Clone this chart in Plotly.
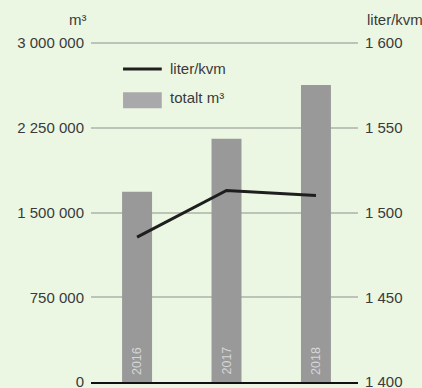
import plotly.graph_objects as go

years = ["2016", "2017", "2018"]
totalt_m3 = [1685000, 2153000, 2629000]
liter_kvm = [1485.5, 1513, 1510]

left_ticks = [0, 750000, 1500000, 2250000, 3000000]
left_ticktext = ["0", "750 000", "1 500 000", "2 250 000", "3 000 000"]
right_ticks = [1400, 1450, 1500, 1550, 1600]
right_ticktext = ["1 400", "1 450", "1 500", "1 550", "1 600"]

BG = "#ebf7e3"
TXT = "#3a3a3a"
FONT = "Liberation Sans, Arial, sans-serif"
FS = 15

xs = list(range(len(years)))

fig = go.Figure()
fig.add_trace(go.Bar(x=xs, y=totalt_m3, width=0.335, marker=dict(color="#999999", line=dict(width=0)),
                     name="totalt m³", yaxis="y"))
fig.add_trace(go.Scatter(x=xs, y=liter_kvm, mode="lines", line=dict(color="#1e1e1e", width=3),
                         name="liter/kvm", yaxis="y2"))

annotations = []
for i, yr in enumerate(years):
    annotations.append(dict(x=i, y=0, xref="x", yref="y", text=yr, textangle=-90, showarrow=False,
                            yanchor="bottom", xanchor="center", yshift=5,
                            font=dict(family=FONT, size=12.5, color="#d6d6d6")))
annotations += [
    dict(xref="paper", yref="paper", x=0, y=1, xanchor="right", yanchor="middle", xshift=-2, yshift=23,
         text="m³", showarrow=False, font=dict(family=FONT, size=FS, color=TXT)),
    dict(xref="paper", yref="paper", x=1, y=1, xanchor="left", yanchor="middle", xshift=7, yshift=23,
         text="liter/kvm", showarrow=False, font=dict(family=FONT, size=FS, color=TXT)),
    dict(xref="paper", yref="paper", x=0.288, y=0.9206, xanchor="left", yanchor="middle",
         text="liter/kvm", showarrow=False, font=dict(family=FONT, size=FS, color=TXT)),
    dict(xref="paper", yref="paper", x=0.288, y=0.838, xanchor="left", yanchor="middle",
         text="totalt m³", showarrow=False, font=dict(family=FONT, size=FS, color=TXT)),
]

shapes = [
    dict(type="line", xref="paper", yref="paper", x0=0.12, x1=0.265, y0=0.9206, y1=0.9206,
         line=dict(color="#1e1e1e", width=3)),
    dict(type="rect", xref="paper", yref="paper", x0=0.12, x1=0.265, y0=0.805, y1=0.852,
         fillcolor="#a9a9ab", line=dict(width=0)),
]

fig.update_layout(
    width=422, height=388,
    margin=dict(l=91, r=64, t=42, b=6, autoexpand=False),
    paper_bgcolor=BG, plot_bgcolor=BG,
    showlegend=False,
    font=dict(family=FONT, size=FS, color=TXT),
    xaxis=dict(range=[-0.515, 2.47], showticklabels=False, showgrid=False, zeroline=False,
               showline=True, linecolor="#111111", linewidth=1.5, ticks="", automargin=False),
    yaxis=dict(range=[0, 3010000], tickvals=left_ticks, ticktext=left_ticktext,
               showgrid=True, gridcolor="#bcc4b8", gridwidth=1.5, zeroline=False, showline=False,
               ticks="", ticklabelstandoff=6, ticklabeloverflow="allow", automargin=False,
               tickfont=dict(family=FONT, size=FS, color=TXT)),
    yaxis2=dict(range=[1400, 1600.67], tickvals=right_ticks, ticktext=right_ticktext, overlaying="y",
                side="right", showgrid=False, zeroline=False, showline=False, ticks="",
                ticklabelstandoff=6, ticklabeloverflow="allow", automargin=False,
                tickfont=dict(family=FONT, size=FS, color=TXT)),
    annotations=annotations, shapes=shapes,
)

fig.write_html("out.html")
